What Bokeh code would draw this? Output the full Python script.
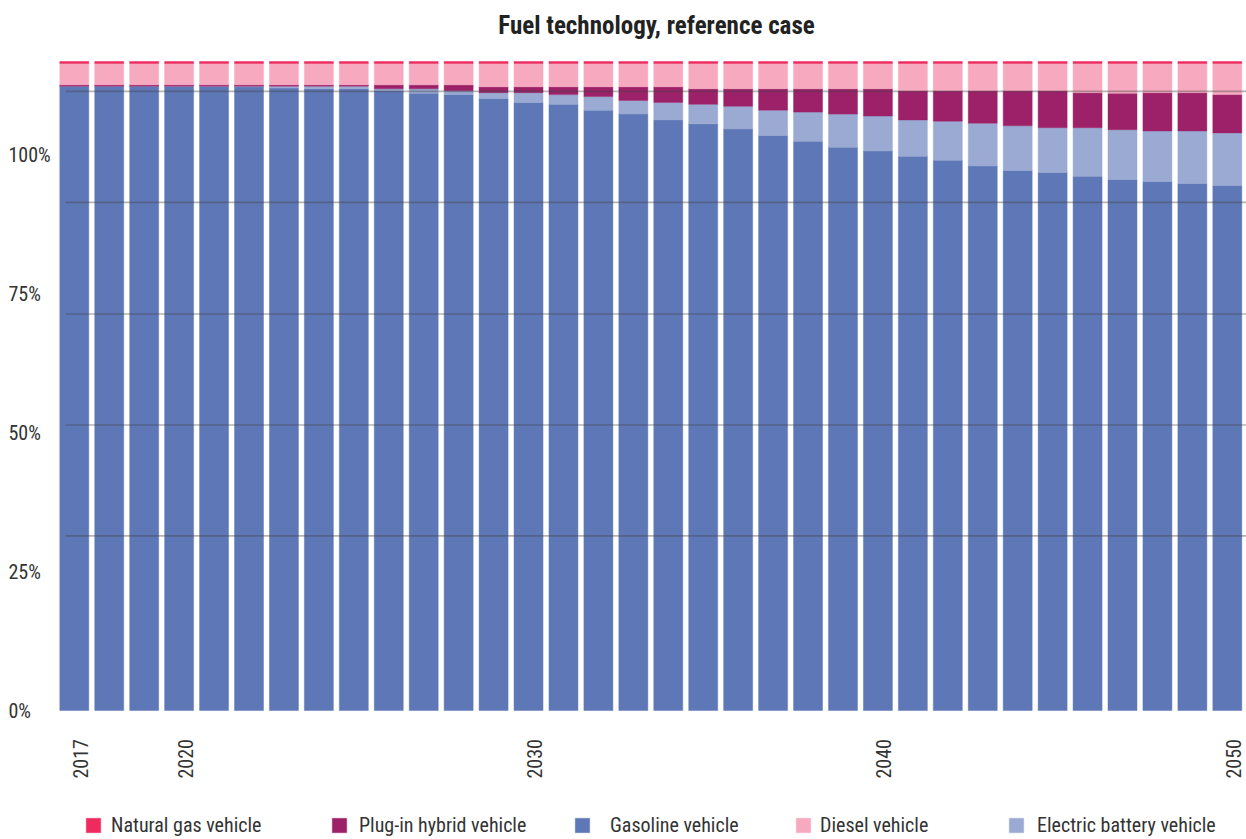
import numpy as np
from bokeh.plotting import figure
from bokeh.models import ColumnDataSource, Range1d, Label, Legend, LegendItem
from bokeh.embed import file_html
from bokeh.resources import INLINE

# Share of light-duty vehicle sales by fuel technology, reference case (%)
years = list(range(2017, 2051))
gasoline = [96.2, 96.2, 96.2, 96.15, 96.15, 96.1, 95.9, 95.8, 95.8, 95.5,
            95.1, 94.9, 94.3, 93.7, 93.4, 92.5, 91.9, 91.0, 90.4, 89.6,
            88.6, 87.7, 86.8, 86.2, 85.4, 84.8, 83.9, 83.2, 82.9, 82.3,
            81.8, 81.5, 81.2, 80.9]
electric = [0.0, 0.0, 0.0, 0.05, 0.05, 0.1, 0.3, 0.4, 0.4, 0.3,
            0.7, 0.6, 0.9, 1.5, 1.5, 2.1, 2.1, 2.7, 3.0, 3.5,
            3.9, 4.5, 5.1, 5.4, 5.6, 6.0, 6.6, 6.9, 6.9, 7.5,
            7.7, 7.8, 8.1, 8.1]
plugin_hybrid = [0.2, 0.2, 0.2, 0.2, 0.2, 0.2, 0.2, 0.2, 0.2, 0.6,
                 0.6, 0.9, 0.9, 0.9, 1.2, 1.5, 2.1, 2.4, 2.4, 2.7,
                 3.3, 3.6, 3.9, 4.2, 4.5, 4.7, 5.0, 5.4, 5.7, 5.4,
                 5.6, 5.9, 5.9, 5.9]
diesel = [3.3, 3.3, 3.3, 3.3, 3.3, 3.3, 3.3, 3.3, 3.3, 3.3,
          3.3, 3.3, 3.6, 3.6, 3.6, 3.6, 3.6, 3.6, 3.9, 3.9,
          3.9, 3.9, 3.9, 3.9, 4.2, 4.2, 4.2, 4.2, 4.2, 4.5,
          4.6, 4.5, 4.5, 4.8]
natural_gas = [0.3] * 34

series_keys = ["gasoline", "electric", "plugin_hybrid", "diesel", "natural_gas"]
series_names = ["Gasoline vehicle", "Electric battery vehicle", "Plug-in hybrid vehicle",
                "Diesel vehicle", "Natural gas vehicle"]
series_colors = ["#5E77B6", "#9AAAD2", "#9C2169", "#F7AABF", "#EE2A5E"]

legend_order = ["Natural gas vehicle", "Plug-in hybrid vehicle", "Gasoline vehicle",
                "Diesel vehicle", "Electric battery vehicle"]

y_tick_values = [0, 25, 50, 75, 100]
x_tick_years = [2017, 2020, 2030, 2040, 2050]

# ---- layout: the plotting frame fills the whole canvas ----
W, H = 1246, 839
PX_PER_YEAR = 34.94          # horizontal pixels per bar slot
FIRST_BAR_PX = 73.8          # centre of the first bar from the left edge
PX_PER_PCT = 6.49            # vertical pixels per percentage point
BASE_PX = 129                # height of the band below the bars
AXIS_FACTOR = 0.856          # spacing of the percent labels along the bars
GRID_LEVELS = [26.9, 44.0, 61.1, 78.3, 95.4]
FONT = "'Roboto Condensed', 'Liberation Sans Narrow', 'DejaVu Sans Condensed', sans-serif"
TEXT_COLOR = "#333333"

x_start = years[0] - FIRST_BAR_PX / PX_PER_YEAR
x_end = x_start + W / PX_PER_YEAR
y_start = -BASE_PX / PX_PER_PCT
y_end = y_start + H / PX_PER_PCT

source = ColumnDataSource(dict(year=years, gasoline=gasoline, electric=electric,
                               plugin_hybrid=plugin_hybrid, diesel=diesel,
                               natural_gas=natural_gas))

p = figure(width=W, height=H, output_backend="svg", toolbar_location=None,
           x_range=Range1d(x_start, x_end), y_range=Range1d(y_start, y_end),
           min_border=0)
p.outline_line_color = None
p.background_fill_color = "white"
p.border_fill_color = "white"
p.xaxis.visible = False
p.yaxis.visible = False
p.xgrid.visible = False
p.ygrid.visible = False

renderers = p.vbar_stack(series_keys, x="year", width=0.83, source=source,
                         fill_color=series_colors, line_color=series_colors,
                         line_alpha=0.45, line_width=1)

# horizontal rules drawn over the bars
p.segment(x0=years[0] - 0.25, x1=x_end, y0=GRID_LEVELS, y1=GRID_LEVELS,
          line_color="#444444", line_alpha=0.4, line_width=1.6)

# title
p.add_layout(Label(x=W / 2 + 33, x_units="screen", y=H - 25, y_units="screen",
                   text="Fuel technology, reference case", text_align="center",
                   text_baseline="alphabetic", text_font=FONT, text_font_size="25px",
                   text_font_style="bold", text_color="#222222"))

# percent labels, left aligned at the canvas edge
for v in y_tick_values:
    p.add_layout(Label(x=8, x_units="screen", y=v * AXIS_FACTOR, y_units="data",
                       text=f"{v}%", text_align="left", text_baseline="middle",
                       text_font=FONT, text_font_size="20px", text_color=TEXT_COLOR))

# rotated year labels under the bars
for yr in x_tick_years:
    p.add_layout(Label(x=yr, x_units="data", y=H - 778, y_units="screen", x_offset=6,
                       angle=np.pi / 2, text=str(yr), text_align="left",
                       text_baseline="middle", text_font=FONT, text_font_size="20px",
                       text_color=TEXT_COLOR))

# one legend per entry so each can sit at its own spot along the bottom
legend_x = [84, 330, 573, 794, 1007]
legend_standoff = [9, 11, 19, 8, 12]
by_name = dict(zip(series_names, renderers))
for name, lx, so in zip(legend_order, legend_x, legend_standoff):
    lg = Legend(items=[LegendItem(label=name, renderers=[by_name[name]])],
                location=(lx, 2), orientation="horizontal",
                glyph_width=18, glyph_height=18, label_height=18, label_standoff=so,
                padding=0, margin=0, border_line_color=None, background_fill_alpha=0,
                label_text_font=FONT, label_text_font_size="20px",
                label_text_color=TEXT_COLOR)
    p.add_layout(lg)

open("out.html", "w").write(file_html(p, INLINE))
